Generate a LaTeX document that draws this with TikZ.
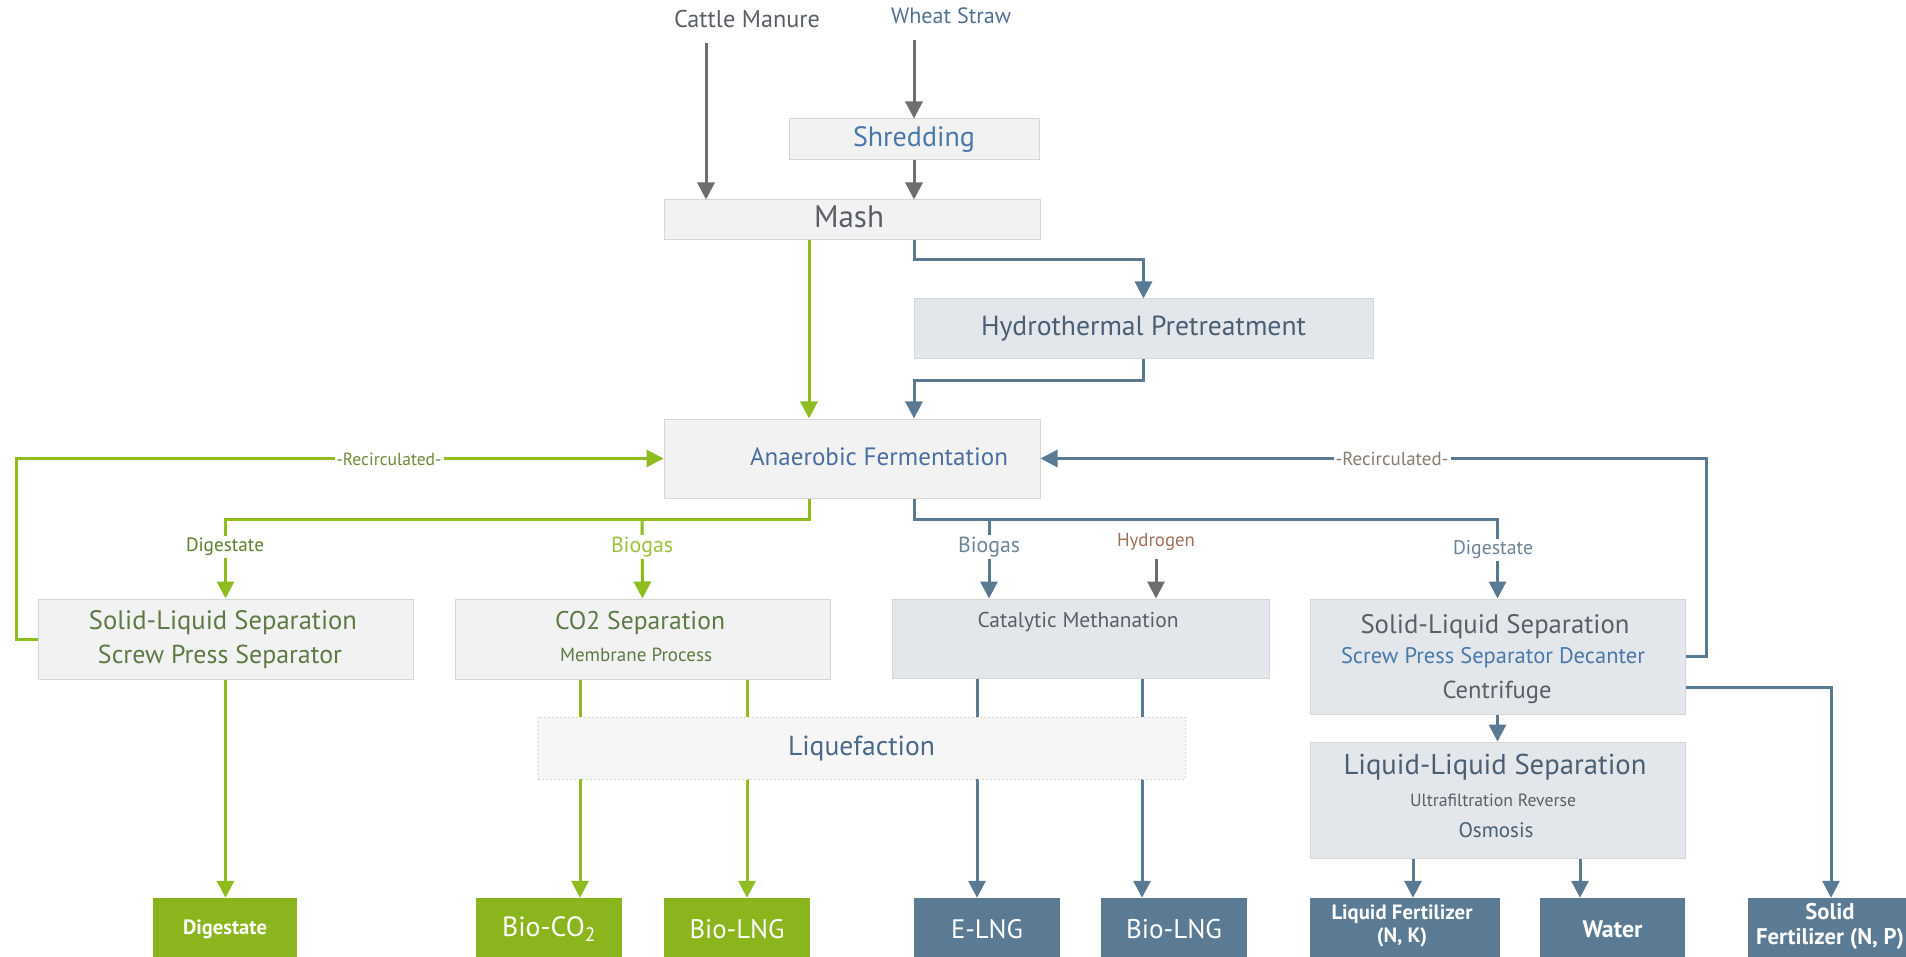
\documentclass[tikz,border=0pt]{standalone}
\usepackage{fontspec}
\setmainfont{PT Sans}
\usetikzlibrary{arrows.meta}
\newcommand{\fw}[2]{\resizebox{#1pt}{!}{#2}}
\definecolor{gline}{HTML}{8FBC1E}
\definecolor{gbox}{HTML}{8BB51C}
\definecolor{bline}{HTML}{5A7A94}
\definecolor{bbox}{HTML}{5B7B95}
\definecolor{gyline}{HTML}{6E6E6E}
\definecolor{lgfill}{HTML}{F2F2F2}
\definecolor{lbfill}{HTML}{E3E7EB}
\definecolor{bordc}{HTML}{D4D6D8}
\definecolor{tgray}{HTML}{5A5F66}
\definecolor{tblue}{HTML}{4A6EA0}
\definecolor{tbluel}{HTML}{4A78A8}
\definecolor{tslate}{HTML}{4A5F73}
\definecolor{tgreen}{HTML}{5D7A45}
\definecolor{tgreenl}{HTML}{9CC23E}
\definecolor{tgreend}{HTML}{5C7F2A}
\definecolor{tbgray}{HTML}{6D8399}
\definecolor{twheat}{HTML}{536F96}
\definecolor{tbrown}{HTML}{A0705A}
\definecolor{trec}{HTML}{8A7D70}
\definecolor{trecg}{HTML}{6F8A3C}
\definecolor{tliq}{HTML}{4A6888}
\begin{document}
\begin{tikzpicture}[x=1pt,y=-1pt,
  fs/.style={font=\fontsize{#1}{#1}\selectfont},
  fsb/.style={font=\fontsize{#1}{#1}\selectfont\bfseries},
  lbox/.style={draw=bordc, line width=1pt, fill=lgfill, inner sep=0pt},
  bbx/.style={draw=bordc, line width=1pt, fill=lbfill, inner sep=0pt},
  gout/.style={fill=gbox, draw=none, inner sep=0pt, text=white},
  bout/.style={fill=bbox, draw=none, inner sep=0pt, text=white},
  txt/.style={inner sep=0pt},
  lab/.style={fill=white, inner sep=2pt},
  tip/.style={-{Triangle[width=17pt,length=17pt]}},
  garr/.style={draw=gline, line width=3pt, tip},
  barr/.style={draw=bline, line width=3pt, tip},
  yarr/.style={draw=gyline, line width=3pt, tip}
]
\clip (0,0) rectangle (1906,957);
\fill[white] (0,0) rectangle (1906,957);

% ---- top inputs
\node[txt, fs=24, text=tgray] (cattle) at (747,19) {\fw{146}{Cattle Manure}};
\node[txt, fs=22, text=twheat] (wheat) at (951,16) {\fw{120}{Wheat Straw}};
\coordinate (cStart) at (706,43);
\coordinate (wStart) at (914,40);

% ---- boxes
\node[lbox, minimum width=250pt, minimum height=41pt, fs=26, text=tbluel] (shred) at (914,139.5) {\fw{122}{Shredding}};
\node[lbox, minimum width=376pt, minimum height=40pt] (mash) at (852,220) {};
\node[txt, fs=28, text=tgray] (masht) at (849,217) {\fw{70}{Mash}};
\node[bbx, minimum width=459pt, minimum height=60pt, fs=27, text=tslate] (hydro) at (1143.5,329) {\fw{325}{Hydrothermal Pretreatment}};
\node[lbox, minimum width=376pt, minimum height=79pt] (anaer) at (852,458.5) {};
\node[txt, fs=25, text=tblue] (anaert) at (879,457) {\fw{258}{Anaerobic Fermentation}};

\node[lbox, minimum width=375pt, minimum height=80pt] (slsL) at (225.5,639) {};
\node[txt, fs=26, text=tgreen] (slsL1) at (223,623) {\fw{268}{Solid-Liquid Separation}};
\node[txt, fs=26, text=tgreen] (slsL2) at (220,657) {\fw{244}{Screw Press Separator}};

\node[lbox, minimum width=375pt, minimum height=80pt] (co2) at (642.5,639) {};
\node[txt, fs=25, text=tgreen] (co21) at (640,623) {\fw{170}{CO2 Separation}};
\node[txt, fs=19, text=tgreen] (co22) at (636,655) {\fw{152}{Membrane Process}};

\node[bbx, minimum width=377pt, minimum height=79pt] (cat) at (1080.5,638.5) {};
\node[txt, fs=21, text=tgray] (catt) at (1078,622) {\fw{201}{Catalytic Methanation}};

\node[bbx, minimum width=375pt, minimum height=115pt] (slsR) at (1497.5,656.5) {};
\node[txt, fs=26, text=tgray] (slsR1) at (1495,627) {\fw{269}{Solid-Liquid Separation}};
\node[txt, fs=22, text=tbluel] (slsR2) at (1493,658) {\fw{304}{Screw Press Separator Decanter}};
\node[txt, fs=25, text=tgray] (slsR3) at (1497,692) {\fw{109}{Centrifuge}};

\node[bbx, minimum width=375pt, minimum height=116pt] (lls) at (1497.5,800) {};
\node[txt, fs=28, text=tslate] (lls1) at (1495,767) {\fw{303}{Liquid-Liquid Separation}};
\node[txt, fs=17, text=tgray] (lls2) at (1493,800) {\fw{166}{Ultrafiltration Reverse}};
\node[txt, fs=21, text=tslate] (lls3) at (1496,830) {\fw{75}{Osmosis}};

% ---- outputs
\node[gout, minimum width=144pt, minimum height=62pt, fsb=20] (dig) at (225,929) {\fw{84}{Digestate}};
\node[gout, minimum width=146pt, minimum height=62pt, fs=27] (bco2) at (549,929) {\fw{94}{Bio-CO\textsubscript{2}}};
\node[gout, minimum width=146pt, minimum height=62pt, fs=27] (blngG) at (737,929) {\fw{95}{Bio-LNG}};
\node[bout, minimum width=146pt, minimum height=62pt, fs=27] (elng) at (987,929) {\fw{72}{E-LNG}};
\node[bout, minimum width=146pt, minimum height=62pt, fs=27] (blngB) at (1174,929) {\fw{96}{Bio-LNG}};
\node[bout, minimum width=190pt, minimum height=62pt] (lf) at (1405,929) {};
\node[txt, fsb=20, text=white] (lft) at (1402,927) {\fw{141}{\begin{tabular}{@{}c@{}}Liquid Fertilizer\\[2pt](N, K)\end{tabular}}};
\node[bout, minimum width=145pt, minimum height=62pt, fsb=24] (water) at (1612.5,929) {\fw{60}{Water}};
\node[bout, minimum width=164pt, minimum height=62pt] (solid) at (1830,929) {};
\node[txt, fsb=21, text=white] (solidt) at (1830,927) {\fw{148}{\begin{tabular}{@{}c@{}}Solid\\[2pt]Fertilizer (N, P)\end{tabular}}};

% ---- column coordinates
\coordinate (xG) at (809,0);
\coordinate (xB) at (914,0);
\coordinate (gBr) at (642,519);
\coordinate (bBr) at (989,519);
\coordinate (hStart) at (1156,559);
\coordinate (xC1) at (580,0);
\coordinate (xC2) at (747,0);
\coordinate (xK1) at (977,0);
\coordinate (xK2) at (1142,0);
\coordinate (xL1) at (1413,0);
\coordinate (xL2) at (1580,0);
\coordinate (xS) at (1831,0);

% ---- connectors
\draw[yarr] (cStart) -- (mash.north -| cStart);
\draw[yarr] (wStart) -- (shred.north);
\draw[yarr] (shred.south) -- (mash.north -| shred.south);
\draw[garr] (mash.south -| xG) -- (anaer.north -| xG);
\draw[barr] (mash.south -| xB) -- ++(0,19) -| (hydro.north);
\draw[barr] (hydro.south) -- ++(0,21) -| (anaer.north -| xB);

\draw[garr] (anaer.south -| xG) -- ++(0,21) -| (slsL.north);
\draw[garr] (gBr) -- (co2.north);
\draw[barr] (anaer.south -| xB) -- ++(0,21) -| (slsR.north);
\draw[barr] (bBr) -- (cat.north -| bBr);
\draw[yarr] (hStart) -- (cat.north -| hStart);

\draw[garr] (slsL.west) -- ++(-21,0) |- (anaer.west);
\draw[barr] (slsR.east) -- ++(21,0) |- (anaer.east);

\draw[garr] (slsL.south) -- (dig.north -| slsL.south);
\draw[garr] (co2.south -| xC1) -- (bco2.north -| xC1);
\draw[garr] (co2.south -| xC2) -- (blngG.north -| xC2);
\draw[barr] (cat.south -| xK1) -- (elng.north -| xK1);
\draw[barr] (cat.south -| xK2) -- (blngB.north -| xK2);
\draw[barr] (slsR.south) -- (lls.north);
\draw[barr] (lls.south -| xL1) -- (lf.north -| xL1);
\draw[barr] (lls.south -| xL2) -- (water.north -| xL2);
\draw[barr] ([yshift=-30.5pt]slsR.east) -| (solid.north -| xS);

% ---- liquefaction (over the lines)
\node[draw=bordc, dash pattern=on 2pt off 2pt, line width=1pt, fill=lgfill!70!white, inner sep=0pt,
      minimum width=647pt, minimum height=62pt, fs=27, text=tliq] (liq) at (861.5,748) {\fw{147}{Liquefaction}};

% ---- labels
\node[lab, fs=19, text=tgreend] (ldigL) at (225,547) {\fw{78}{Digestate}};
\node[lab, fs=21, text=tgreenl] (lbioG) at (642,547) {\fw{62}{Biogas}};
\node[lab, fs=21, text=tbgray] (lbioB) at (989,547) {\fw{62}{Biogas}};
\node[txt, fs=19, text=tbrown] (lhyd) at (1156,542) {\fw{78}{Hydrogen}};
\node[lab, fs=19, text=tbgray] (ldigR) at (1493,550) {\fw{80}{Digestate}};
\node[lab, fs=17, text=trecg] (lrecL) at (389,459) {\fw{105}{-Recirculated-}};
\node[lab, fs=17, text=trec] (lrecR) at (1392,459) {\fw{113}{-Recirculated-}};
\end{tikzpicture}
\end{document}
